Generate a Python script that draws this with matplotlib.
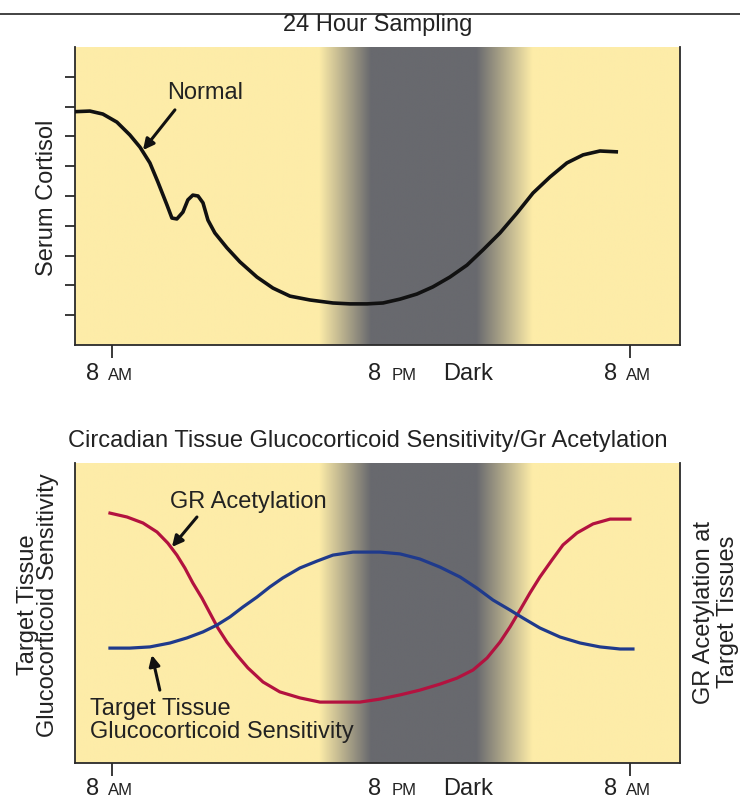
import numpy as np
import matplotlib
matplotlib.use("Agg")
import matplotlib.pyplot as plt
from matplotlib.lines import Line2D

plt.rcParams['font.family'] = ['Liberation Sans', 'DejaVu Sans']

# time axis in hours after 8 AM
cortisol_hours = [-1.71, -1.02, -0.42, 0.23, 0.83, 1.30, 1.76, 2.13, 2.55, 2.78, 3.01, 3.29,
                  3.52, 3.75, 3.99, 4.22, 4.45, 4.77, 5.33, 5.93, 6.72, 7.46, 8.25, 9.18,
                  10.24, 11.03, 11.82, 12.56, 13.35, 14.13, 14.87, 15.66, 16.45, 17.19,
                  17.98, 18.77, 19.51, 20.30, 21.08, 21.83, 22.61, 23.45]
cortisol_level = [7.83, 7.85, 7.75, 7.48, 7.05, 6.64, 6.11, 5.47, 4.70, 4.26, 4.23, 4.46,
                  4.87, 5.03, 5.00, 4.77, 4.19, 3.76, 3.26, 2.79, 2.28, 1.91, 1.64, 1.51,
                  1.41, 1.38, 1.38, 1.41, 1.54, 1.71, 1.95, 2.28, 2.68, 3.19,
                  3.76, 4.43, 5.10, 5.64, 6.11, 6.38, 6.51, 6.48]

gr_hours = [-0.09, 0.70, 1.44, 2.09, 2.59, 3.01, 3.38, 3.75, 4.17, 4.54, 4.91, 5.33, 5.79,
            6.30, 7.00, 7.78, 8.71, 9.64, 10.57, 11.49, 12.42, 13.35, 14.27, 15.20, 15.99,
            16.73, 17.38, 17.98, 18.44, 18.91, 19.37, 19.83, 20.39, 20.90, 21.55, 22.29,
            23.08, 24.00]
gr_acetylation = [8.33, 8.20, 8.00, 7.70, 7.33, 6.93, 6.50, 6.00, 5.50, 5.00, 4.50, 4.03, 3.60,
                  3.17, 2.70, 2.37, 2.17, 2.03, 2.03, 2.03, 2.13, 2.27, 2.43, 2.63, 2.83,
                  3.10, 3.50, 4.03, 4.53, 5.10, 5.67, 6.20, 6.77, 7.27, 7.67, 7.97,
                  8.13, 8.13]

sens_hours = [-0.09, 0.83, 1.76, 2.69, 3.48, 4.22, 4.87, 5.47, 6.07, 6.72, 7.32, 7.92, 8.71,
              9.50, 10.24, 11.17, 12.42, 13.35, 14.27, 15.20, 16.13, 16.91, 17.66, 18.44,
              19.05, 19.83, 20.76, 21.69, 22.61, 23.54, 24.14]
sens_level = [3.83, 3.83, 3.87, 4.00, 4.17, 4.37, 4.60, 4.87, 5.20, 5.53, 5.87, 6.17, 6.50,
              6.73, 6.93, 7.03, 7.03, 6.97, 6.80, 6.53, 6.20, 5.83, 5.43, 5.10,
              4.83, 4.50, 4.20, 4.00, 3.87, 3.80, 3.80]

tick_hours = [0, 24]
time_labels = [("8", "AM", 0.0), ("8", "PM", 13.1), ("8", "AM", 24.0)]
dark_label = ("Dark", 16.5)
dark_hours = [9.6, 12.0, 16.9, 19.5]   # night shading: fade in, full, fade out

x_range = (-1.71, 26.32)
yellow = np.array([253, 236, 168]) / 255
gray = np.array([104, 105, 110]) / 255
edge = '#2a2a2a'
arrow = dict(arrowstyle='-|>', color='#111', lw=2.2, mutation_scale=16, shrinkA=0, shrinkB=0)


def shade(ax):
    xs = np.linspace(x_range[0], x_range[1], 800)
    t = np.interp(xs, dark_hours, [0, 1, 1, 0])
    rgb = (1 - t)[:, None] * yellow + t[:, None] * gray
    ax.imshow(rgb[None, :, :], extent=[x_range[0], x_range[1], 0, 10],
              aspect='auto', zorder=0, interpolation='bilinear')
    ax.set_xlim(*x_range)
    ax.set_ylim(0, 10)
    ax.spines['top'].set_visible(False)
    for s in ['left', 'right', 'bottom']:
        ax.spines[s].set_color(edge)
        ax.spines[s].set_linewidth(1.3)
    ax.set_xticks(tick_hours)
    ax.set_xticklabels([])
    ax.tick_params(axis='x', direction='out', length=9, width=1.3, color=edge)


def time_axis(ax, base):
    for num, suffix, h in time_labels:
        ax.annotate(num, xy=(h, 0), xycoords=('data', 'axes fraction'),
                    xytext=(-9.5, -base), textcoords='offset points',
                    ha='right', va='baseline', fontsize=17, color='#222')
        ax.annotate(suffix, xy=(h, 0), xycoords=('data', 'axes fraction'),
                    xytext=(-2.5, -base), textcoords='offset points',
                    ha='left', va='baseline', fontsize=12, color='#222')
    ax.annotate(dark_label[0], xy=(dark_label[1], 0), xycoords=('data', 'axes fraction'),
                xytext=(0, -base), textcoords='offset points',
                ha='center', va='baseline', fontsize=17, color='#222')


fig = plt.figure(figsize=(7.4, 8), dpi=100)
fig.add_artist(Line2D([0, 1], [1 - 14 / 800, 1 - 14 / 800], color='#222', lw=1.2))

# top panel: serum cortisol
ax1 = fig.add_axes([75 / 740, 1 - 345 / 800, 605 / 740, 298 / 800])
shade(ax1)
ax1.set_yticks(range(1, 10))
ax1.set_yticklabels([])
ax1.tick_params(axis='y', direction='out', length=7.5, width=1.3, color=edge)
ax1.plot(cortisol_hours, cortisol_level, color='#111', lw=2.6, solid_capstyle='butt',
         solid_joinstyle='round', zorder=3)
ax1.text(4.31, 8.45, 'Normal', fontsize=17, color='#222', ha='center', va='center')
ax1.annotate('', xy=(1.44, 6.54), xytext=(2.92, 7.89), arrowprops=arrow)
time_axis(ax1, 25)
fig.text(47 / 740, 1 - 198 / 800, 'Serum Cortisol', rotation=90, fontsize=17,
         ha='center', va='center', color='#222')
fig.text(378 / 740, 1 - 25 / 800, '24 Hour Sampling', fontsize=17,
         ha='center', va='center', color='#222')

# bottom panel: tissue sensitivity and GR acetylation
ax2 = fig.add_axes([75 / 740, 1 - 763 / 800, 605 / 740, 300 / 800])
shade(ax2)
ax2.set_yticks([])
ax2.plot(gr_hours, gr_acetylation, color='#b3123f', lw=2.3, solid_joinstyle='round', zorder=3)
ax2.plot(sens_hours, sens_level, color='#1f3a8c', lw=2.3, solid_joinstyle='round', zorder=3)
ax2.text(6.3, 8.7, 'GR Acetylation', fontsize=17, color='#222', ha='center', va='center')
ax2.annotate('', xy=(2.78, 7.2), xytext=(3.94, 8.2), arrowprops=arrow)
ax2.text(-1.02, 1.43, 'Target Tissue\nGlucocorticoid Sensitivity', fontsize=17, color='#222',
         ha='left', va='center', linespacing=1.05)
ax2.annotate('', xy=(1.85, 3.6), xytext=(2.22, 2.43), arrowprops=arrow)
time_axis(ax2, 23)
fig.text(368 / 740, 1 - 441 / 800, 'Circadian Tissue Glucocorticoid Sensitivity/Gr Acetylation',
         fontsize=17, ha='center', va='center', color='#222')
fig.text(38 / 740, 1 - 605 / 800, 'Target Tissue\nGlucocorticoid Sensitivity', rotation=90,
         fontsize=17, ha='center', va='center', color='#222', linespacing=0.92)
fig.text(716 / 740, 1 - 612 / 800, 'GR Acetylation at\nTarget Tissues', rotation=90,
         fontsize=17, ha='center', va='center', color='#222', linespacing=1.1)

fig.savefig('out.png', dpi=100)
